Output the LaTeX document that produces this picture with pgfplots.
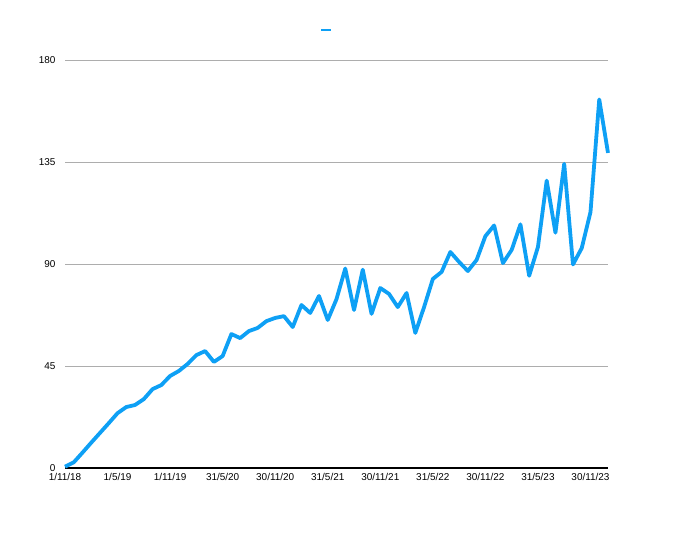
\documentclass[border=0pt]{standalone}
\usepackage{fontspec}
\setmainfont{Liberation Sans}
\usepackage{pgfplots}
\pgfplotsset{compat=1.18}
\definecolor{lineblue}{RGB}{14,160,245}
\begin{document}
\begin{tikzpicture}
\path[use as bounding box] (-65bp,-71bp) rectangle (615bp,468bp);
\begin{axis}[
  at={(0,0)}, anchor=south west,
  scale only axis, width=543bp, height=408bp,
  xmin=0, xmax=62, ymin=0, ymax=180,
  axis lines*=left,
  y axis line style={draw=none},
  x axis line style={black, line width=1.2bp},
  major tick length=0pt,
  ytick={0,45,90,135,180},
  xtick={0,6,12,18,24,30,36,42,48,54,60},
  xticklabels={1/11/18,1/5/19,1/11/19,31/5/20,30/11/20,31/5/21,30/11/21,31/5/22,30/11/22,31/5/23,30/11/23},
  ymajorgrids,
  grid style={color=black!32, line width=0.9bp},
  tick label style={font=\fontsize{10}{12}\selectfont},
  /pgf/number format/assume math mode=true,
  yticklabel style={xshift=-6bp, yshift=-0.5bp},
  xticklabel style={yshift=-1.5bp},
  legend style={at={(0.485,1.0735)}, anchor=center, draw=none, fill=none, font=\fontsize{10}{12}\selectfont},
  legend image code/.code={\draw[#1, line width=2.5bp] (0bp,0bp) -- (10bp,0bp);},
  clip=false,
]
\addplot[color=lineblue, line width=3.8bp, line join=round, mark=none] coordinates {
(0,0.6) (1,2.5) (2,6.8) (3,11.2) (4,15.5) (5,19.8) (6,24.2) (7,26.9) (8,27.8) (9,30.4)
(10,34.8) (11,36.6) (12,40.6) (13,42.8) (14,45.9) (15,49.8) (16,51.6) (17,46.8) (18,49.4) (19,59.1)
(20,57.3) (21,60.4) (22,61.8) (23,64.8) (24,66.2) (25,67.0) (26,62.2) (27,71.9) (28,68.4) (29,75.9)
(30,65.3) (31,74.5) (32,88.0) (33,69.7) (34,87.5) (35,68.0) (36,79.4) (37,76.8) (38,71.0) (39,77.2)
(40,59.6) (41,71.0) (42,83.4) (43,86.5) (44,95.3) (45,90.9) (46,86.9) (47,91.8) (48,102.3) (49,107.0)
(50,90.4) (51,96.2) (52,107.5) (53,84.8) (54,97.5) (55,126.8) (56,103.8) (57,134.2) (58,89.8) (59,97.0)
(60,112.9) (61,162.6) (62,139.0)
};
\addlegendentry{}
\end{axis}
\end{tikzpicture}
\end{document}
